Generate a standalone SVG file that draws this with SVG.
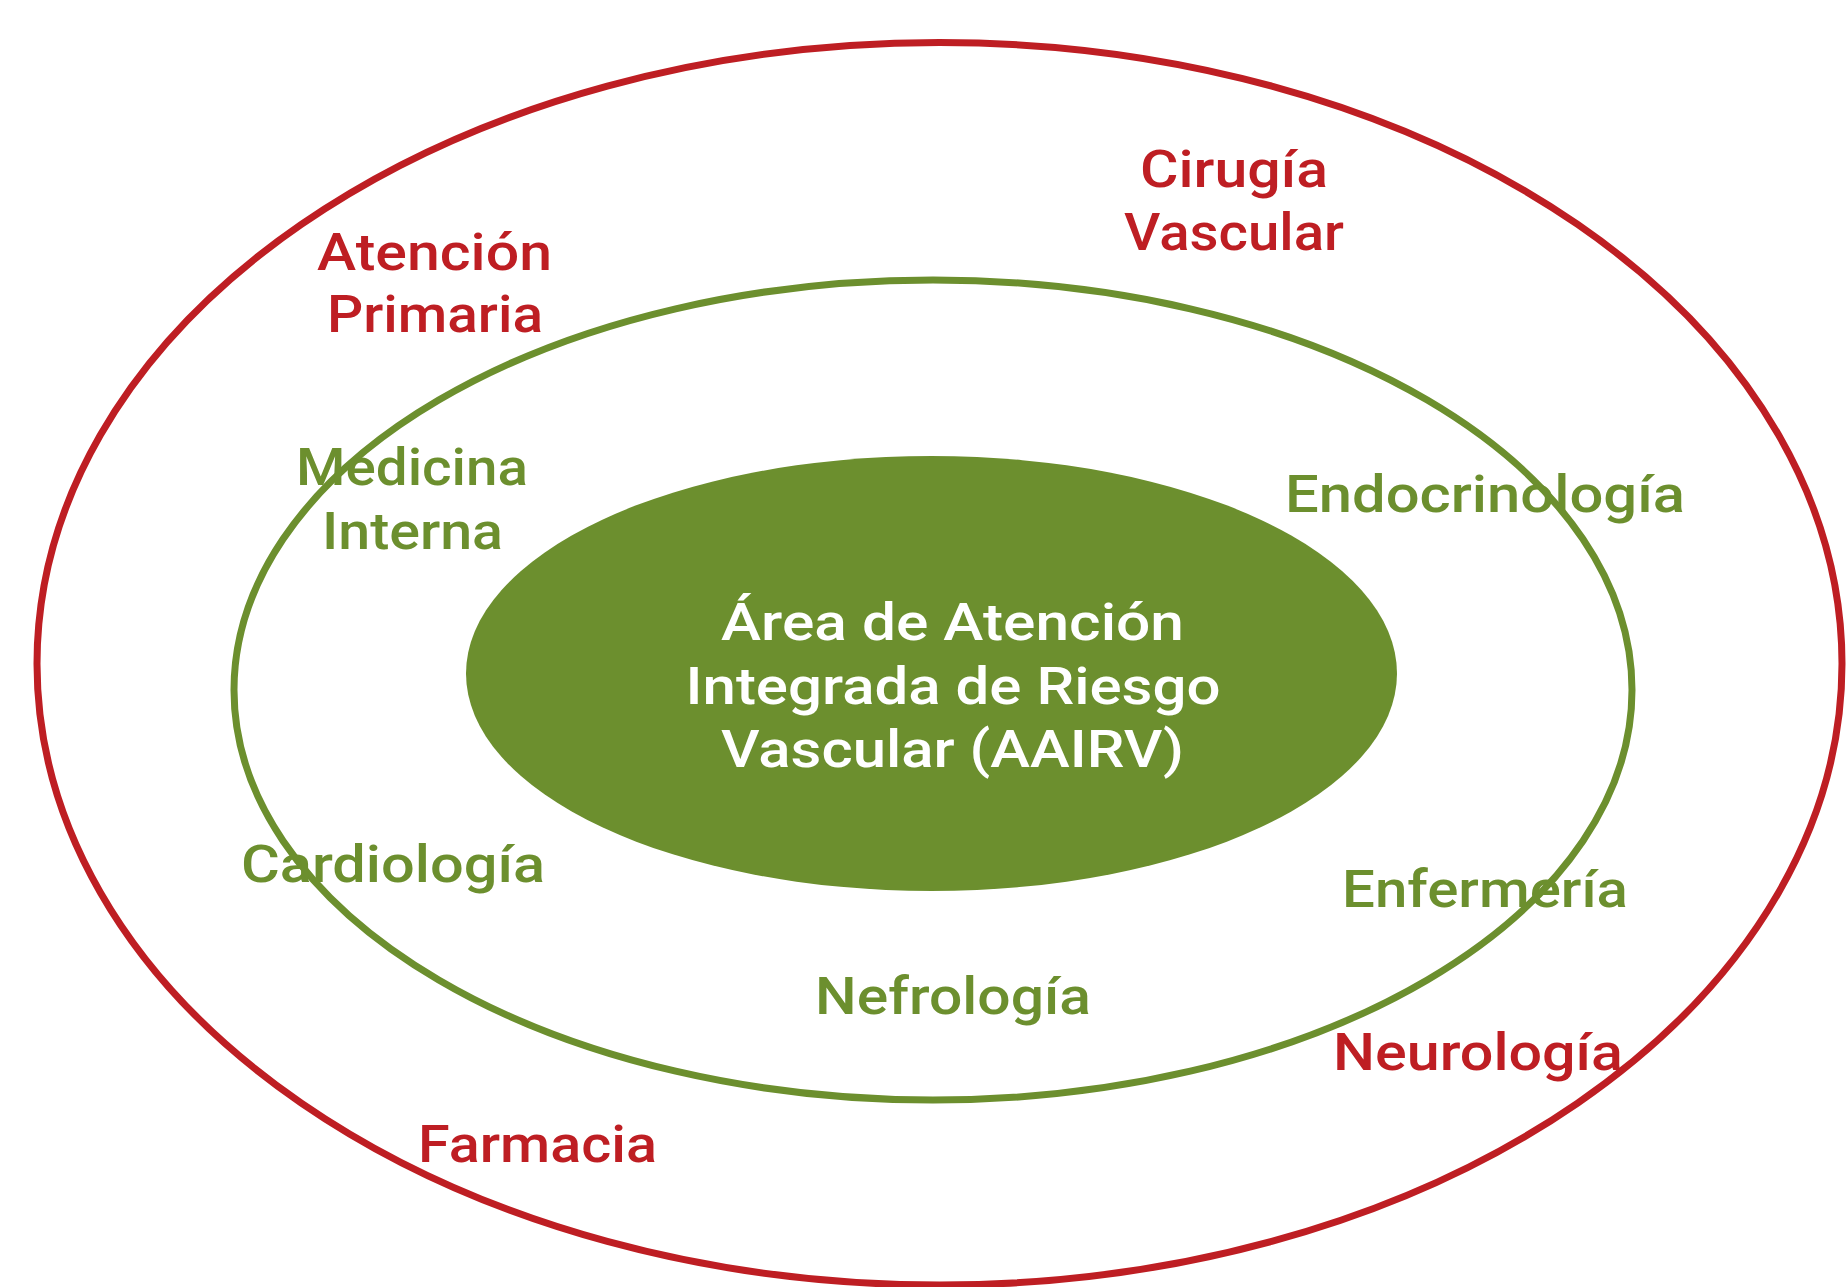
<svg xmlns="http://www.w3.org/2000/svg" width="1846" height="1287" viewBox="0 0 1846 1287">
  <style>
    .ring { fill: none; stroke-width: 7; }
    .red { stroke: #BE1E23; }
    .grn { stroke: #6C8F2E; }
    text { font-family: Roboto, "Liberation Sans", sans-serif; font-weight: 500; font-size: 52px; text-anchor: middle; }
    .tr { fill: #BE1E23; }
    .tg { fill: #6C8F2E; }
    .tw { fill: #FFFFFF; }
  </style>
  <rect x="0" y="0" width="1846" height="1287" fill="#FFFFFF"/>

  <g id="outer-ring">
    <ellipse class="ring red" cx="939.5" cy="663.75" rx="902.5" ry="621.25"/>
  </g>
  <g id="middle-ring">
    <ellipse class="ring grn" cx="933" cy="690" rx="699" ry="410"/>
  </g>
  <g id="core">
    <ellipse cx="931.5" cy="673.5" rx="465.5" ry="217.5" fill="#6C8F2E"/>
    <text class="tw"><tspan x="952.5" y="640" textLength="463" lengthAdjust="spacingAndGlyphs">Área de Atención</tspan><tspan x="953" y="704" textLength="535" lengthAdjust="spacingAndGlyphs">Integrada de Riesgo</tspan><tspan x="952.5" y="767" textLength="463" lengthAdjust="spacingAndGlyphs">Vascular (AAIRV)</tspan></text>
  </g>

  <g id="connectors"></g>

  <g id="atencion-primaria">
    <text class="tr"><tspan x="434.5" y="270" textLength="235" lengthAdjust="spacingAndGlyphs">Atención</tspan><tspan x="435" y="332" textLength="216" lengthAdjust="spacingAndGlyphs">Primaria</tspan></text>
  </g>
  <g id="cirugia-vascular">
    <text class="tr"><tspan x="1234" y="187" textLength="188" lengthAdjust="spacingAndGlyphs">Cirugía</tspan><tspan x="1234" y="250" textLength="220" lengthAdjust="spacingAndGlyphs">Vascular</tspan></text>
  </g>
  <g id="medicina-interna">
    <text class="tg"><tspan x="412" y="485" textLength="232" lengthAdjust="spacingAndGlyphs">Medicina</tspan><tspan x="412.5" y="549" textLength="181" lengthAdjust="spacingAndGlyphs">Interna</tspan></text>
  </g>
  <g id="endocrinologia">
    <text class="tg" x="1485" y="512" textLength="400" lengthAdjust="spacingAndGlyphs">Endocrinología</text>
  </g>
  <g id="cardiologia">
    <text class="tg" x="393" y="882" textLength="304" lengthAdjust="spacingAndGlyphs">Cardiología</text>
  </g>
  <g id="enfermeria">
    <text class="tg" x="1485" y="907" textLength="286" lengthAdjust="spacingAndGlyphs">Enfermería</text>
  </g>
  <g id="nefrologia">
    <text class="tg" x="953" y="1014" textLength="276" lengthAdjust="spacingAndGlyphs">Nefrología</text>
  </g>
  <g id="neurologia">
    <text class="tr" x="1478" y="1070" textLength="290" lengthAdjust="spacingAndGlyphs">Neurología</text>
  </g>
  <g id="farmacia">
    <text class="tr" x="537.5" y="1162" textLength="239" lengthAdjust="spacingAndGlyphs">Farmacia</text>
  </g>
</svg>
